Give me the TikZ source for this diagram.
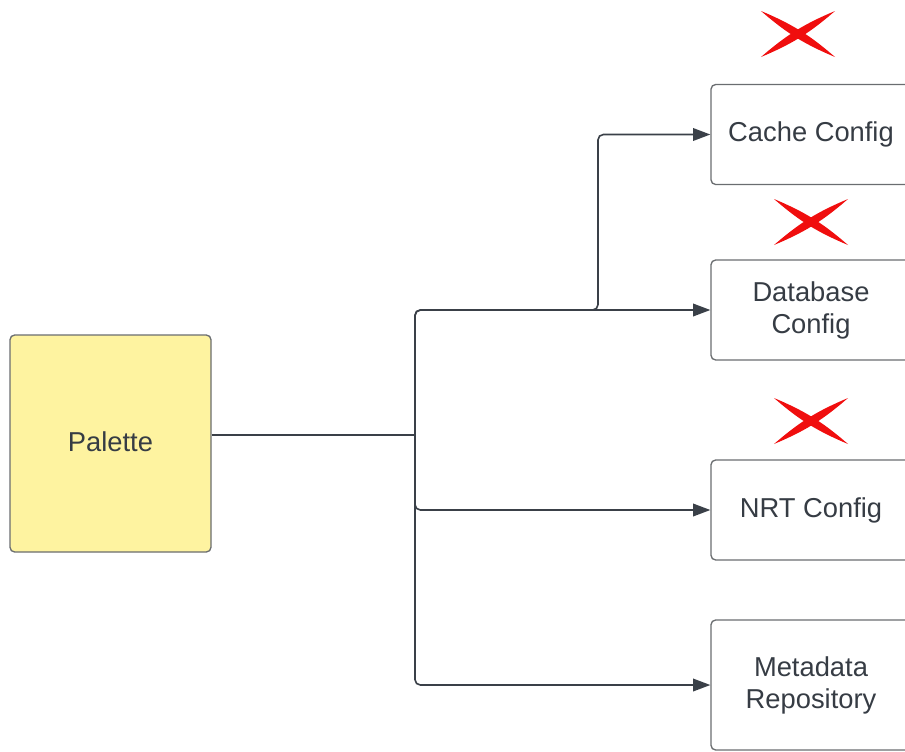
\documentclass[tikz,border=0pt]{standalone}
\usepackage{fontspec}
\setmainfont{Liberation Sans}
\usetikzlibrary{arrows.meta}

\definecolor{lineclr}{HTML}{3A4048}
\definecolor{boxclr}{HTML}{6A6D70}
\definecolor{paletteclr}{HTML}{FEF3A0}
\definecolor{crossclr}{HTML}{F00E0E}
\definecolor{txtclr}{HTML}{363C44}

\tikzset{every picture/.style={line width=0.75pt}}
\tikzset{
  cfgbox/.style={draw=boxclr, line width=1pt, rounded corners=3.5pt,
    minimum width=150pt, minimum height=75pt, align=center, text=txtclr,
    font=\fontsize{20.5}{24}\selectfont},
  link/.style={draw=lineclr, line width=1.2pt, rounded corners=4pt},
  arr/.style={link, -{Triangle[length=13pt,width=9.5pt]}},
  redx/.pic={
    \fill[crossclr] (-37,-23) to[bend right=9] (37,23) to[bend right=9] (-37,-23);
    \fill[crossclr] (37,-23) to[bend right=9] (-37,23) to[bend right=9] (37,-23);
  }
}

\begin{document}
\begin{tikzpicture}[x=0.75pt,y=0.75pt,yscale=-1,xscale=1]
\useasboundingbox (0,0) rectangle (905,751);
\clip (0,0) rectangle (905,751);

% Palette
\node [cfgbox, fill=paletteclr, minimum width=150.75pt, minimum height=162.75pt] (pal) at (110.5,443.5) {\raisebox{2.5pt}{Palette}};

% Config boxes
\node [cfgbox] (cache) at (811,134.5) {\raisebox{2pt}{Cache Config}};
\node [cfgbox] (db) at (811,310) {Database\\Config};
\node [cfgbox] (nrt) at (811,510) {\raisebox{2pt}{NRT Config}};
\node [cfgbox, minimum height=97.5pt] (meta) at (811,685) {Metadata\\Repository};

% junction points
\coordinate (split) at (415,435);
\coordinate (bend) at (598,310);

% connectors
\draw [link] (split -| pal.east) -- (split);
\draw [arr] (split) |- (db.west);
\draw [arr] (split) |- (bend) |- (cache.west);
\draw [arr] (split) |- (nrt.west);
\draw [arr] (split) |- (meta.west);

% red crosses
\pic at (798,34) {redx};
\pic at (811,222) {redx};
\pic at (811,421) {redx};

\end{tikzpicture}
\end{document}
